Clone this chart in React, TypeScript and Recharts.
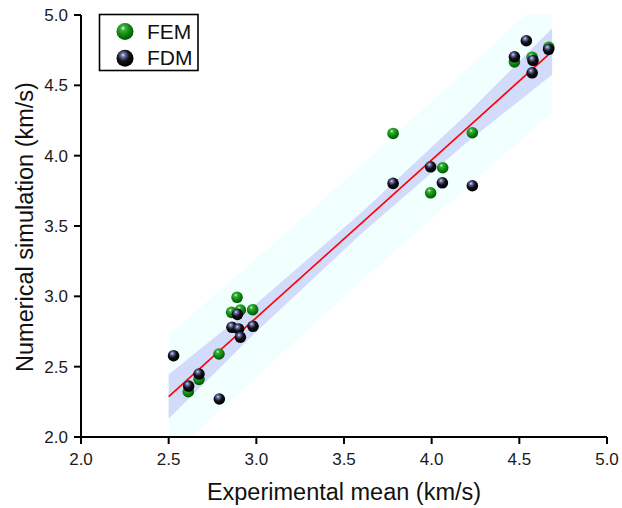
import { ComposedChart, XAxis, YAxis, Area, Line, Scatter } from 'recharts'

// FEM results (experimental mean, numerical simulation), km/s
const femX = [2.612, 2.673, 2.787, 2.859, 2.890, 2.909, 2.979, 3.780, 3.994, 4.063, 4.232, 4.472, 4.573, 4.668]
const femY = [2.322, 2.410, 2.590, 2.886, 2.993, 2.903, 2.905, 4.158, 3.736, 3.914, 4.163, 4.667, 4.699, 4.770]

// FDM results
const fdmX = [2.528, 2.614, 2.673, 2.789, 2.861, 2.892, 2.899, 2.909, 2.981, 3.780, 3.994, 4.061, 4.232, 4.472, 4.540, 4.573, 4.578, 4.667]
const fdmY = [2.578, 2.362, 2.448, 2.270, 2.780, 2.872, 2.768, 2.709, 2.787, 3.803, 3.921, 3.807, 3.786, 4.703, 4.817, 4.589, 4.677, 4.756]

// regression fit with confidence and prediction bands
const bandX = [2.5, 3.0, 3.6, 4.2, 4.687]
const fitY = [2.287, 2.848, 3.521, 4.194, 4.741]
const confLo = [2.130, 2.748, 3.446, 4.094, 4.576]
const confHi = [2.444, 2.948, 3.596, 4.294, 4.906]
const predLo = [1.847, 2.428, 3.111, 3.774, 4.306]
const predHi = [2.727, 3.268, 3.931, 4.614, 5.176]

const ticks = [2.0, 2.5, 3.0, 3.5, 4.0, 4.5, 5.0]

const band = bandX.map((x, i) => ({ x, fit: fitY[i], conf: [confLo[i], confHi[i]], pred: [predLo[i], predHi[i]] }))
const fem = femX.map((x, i) => ({ x, y: femY[i] }))
const fdm = fdmX.map((x, i) => ({ x, y: fdmY[i] }))

const FONT = '"Liberation Sans", Arial, sans-serif'

const Ball = (fill: string, r: number) => (props: any) =>
  <circle cx={props.cx} cy={props.cy} r={r} fill={fill} />

export default function App() {
  const tick = { fontSize: 17, fill: '#1a1a1a', fontFamily: FONT }
  return (
    <div style={{ width: 622, height: 508 }}>
      <style>{'body{margin:0}'}</style>
      <ComposedChart width={622} height={508} data={band} margin={{ top: 15, right: 15, bottom: 0, left: 0 }}>
        <defs>
          <radialGradient id="ballGreen" cx="0.42" cy="0.36" r="0.62" fx="0.38" fy="0.3">
            <stop offset="0%" stopColor="#e6ffe6" />
            <stop offset="22%" stopColor="#3fae3f" />
            <stop offset="60%" stopColor="#0f8a0f" />
            <stop offset="100%" stopColor="#035803" />
          </radialGradient>
          <radialGradient id="ballBlack" cx="0.42" cy="0.36" r="0.62" fx="0.38" fy="0.3">
            <stop offset="0%" stopColor="#dfe4ff" />
            <stop offset="20%" stopColor="#6a72a8" />
            <stop offset="55%" stopColor="#111118" />
            <stop offset="100%" stopColor="#000000" />
          </radialGradient>
        </defs>
        <XAxis
          dataKey="x"
          type="number"
          domain={[2, 5]}
          ticks={ticks}
          allowDataOverflow
          height={71}
          tickFormatter={(v) => v.toFixed(1)}
          tick={tick}
          tickSize={7}
          tickMargin={9}
          axisLine={{ stroke: '#000', strokeWidth: 2 }}
          tickLine={{ stroke: '#000', strokeWidth: 2 }}
          label={{ value: 'Experimental mean (km/s)', position: 'insideBottom', offset: 8, fontSize: 23.5, fill: '#111', fontFamily: FONT }}
        />
        <YAxis
          type="number"
          domain={[2, 5]}
          ticks={ticks}
          allowDataOverflow
          width={81}
          tickFormatter={(v) => v.toFixed(1)}
          tick={tick}
          tickSize={7}
          tickMargin={6}
          axisLine={{ stroke: '#000', strokeWidth: 2 }}
          tickLine={{ stroke: '#000', strokeWidth: 2 }}
        />
        <Area dataKey="pred" stroke="none" strokeWidth={0} fill="#f2ffff" fillOpacity={1} activeDot={false} isAnimationActive={false} />
        <Area dataKey="conf" stroke="none" strokeWidth={0} fill="#d3dbfb" fillOpacity={1} activeDot={false} isAnimationActive={false} />
        <Line dataKey="fit" stroke="#ff0000" strokeWidth={1.6} dot={false} activeDot={false} isAnimationActive={false} />
        <Scatter data={fem} dataKey="y" shape={Ball('url(#ballGreen)', 5.8)} isAnimationActive={false} />
        <Scatter data={fdm} dataKey="y" shape={Ball('url(#ballBlack)', 5.8)} isAnimationActive={false} />

        <text x={33} y={227} transform="rotate(-90 33 227)" textAnchor="middle" fontSize={23.5} fill="#111" fontFamily={FONT}>
          Numerical simulation (km/s)
        </text>

        {/* legend box */}
        <g>
          <rect x={99.5} y={14.5} width={98.5} height={56} fill="#fff" stroke="#000" strokeWidth={1.6} />
          <circle cx={125} cy={31.5} r={8.5} fill="url(#ballGreen)" />
          <circle cx={125} cy={58.3} r={8.5} fill="url(#ballBlack)" />
          <text x={147} y={38.5} fontSize={21} fill="#111" fontFamily={FONT}>FEM</text>
          <text x={147} y={65} fontSize={21} fill="#111" fontFamily={FONT}>FDM</text>
        </g>
      </ComposedChart>
    </div>
  )
}
